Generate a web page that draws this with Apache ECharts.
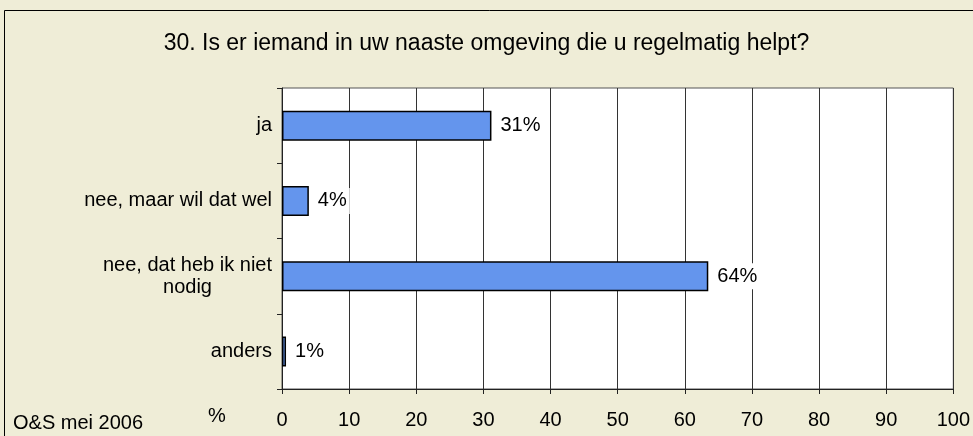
<!DOCTYPE html>
<html>
<head>
<meta charset="utf-8">
<script src="https://cdn.jsdelivr.net/npm/echarts@6/dist/echarts.min.js"></script>
<style>
  html, body { margin: 0; padding: 0; background: #efedd7; }
  #chart { width: 973px; height: 436px; }
</style>
</head>
<body>
<div id="chart"></div>
<script>
// antwoorden op vraag 30
var categories = ['ja', 'nee, maar wil dat wel', 'nee, dat heb ik niet nodig', 'anders'];
var percentages = [31.2, 4.0, 63.5, 0.6];
var valueLabels = ['31%', '4%', '64%', '1%'];
var xTicks = [0, 10, 20, 30, 40, 50, 60, 70, 80, 90, 100];

var chart = echarts.init(document.getElementById('chart'));
var font = 'Liberation Sans, Arial, sans-serif';

chart.setOption({
    backgroundColor: '#efedd7',
    animation: false,
    title: {
        text: '30. Is er iemand in uw naaste omgeving die u regelmatig helpt?',
        left: 'center',
        top: 27,
        textStyle: { fontFamily: font, fontSize: 23, fontWeight: 'normal', color: '#000' }
    },
    graphic: [
        // kader om de grafiek
        { type: 'rect', shape: { x: 4.5, y: 10.5, width: 1000, height: 500 }, style: { fill: null, stroke: '#000', lineWidth: 1 } },
        { type: 'text', left: 13, top: 413, style: { text: 'O&S mei 2006', font: '20px ' + font, fill: '#000' } },
        { type: 'text', left: 208, top: 406, style: { text: '%', font: '20px ' + font, fill: '#000' } }
    ],
    grid: {
        left: 282, right: 14, top: 88, bottom: 47,
        show: true, backgroundColor: '#fff', borderColor: '#555', borderWidth: 1
    },
    xAxis: {
        type: 'value',
        min: 0, max: 100, interval: 10,
        axisLine: { show: true, lineStyle: { color: '#222' } },
        axisTick: { show: true, length: 5, lineStyle: { color: '#222' } },
        splitLine: { show: true, lineStyle: { color: '#333' } },
        axisLabel: {
            fontFamily: font, fontSize: 20, color: '#000', margin: 21,
            formatter: function (v) { return xTicks.indexOf(v) >= 0 ? String(v) : ''; }
        }
    },
    yAxis: {
        type: 'category',
        inverse: true,
        data: categories,
        axisLine: { show: true, lineStyle: { color: '#222' } },
        axisTick: { show: true, length: 5, lineStyle: { color: '#222' } },
        axisLabel: {
            fontFamily: font, fontSize: 20, color: '#000', margin: 10,
            formatter: function (v) {
                if (v === 'nee, dat heb ik niet nodig') {
                    return '{a|nee, dat heb ik niet}\n{b|nodig}';
                }
                return v;
            },
            rich: {
                a: { fontFamily: font, fontSize: 20, color: '#000', lineHeight: 22 },
                b: { fontFamily: font, fontSize: 20, color: '#000', lineHeight: 22, width: 169, align: 'center' }
            }
        }
    },
    series: [{
        type: 'bar',
        data: percentages,
        barWidth: 30,
        itemStyle: { color: '#6495ed', borderColor: '#000', borderWidth: 1.5 },
        label: {
            show: true,
            position: 'right',
            distance: 6,
            fontFamily: font, fontSize: 20, color: '#000',
            backgroundColor: '#fff',
            padding: [3, 3],
            formatter: function (p) { return valueLabels[p.dataIndex]; }
        }
    }]
});
</script>
</body>
</html>
